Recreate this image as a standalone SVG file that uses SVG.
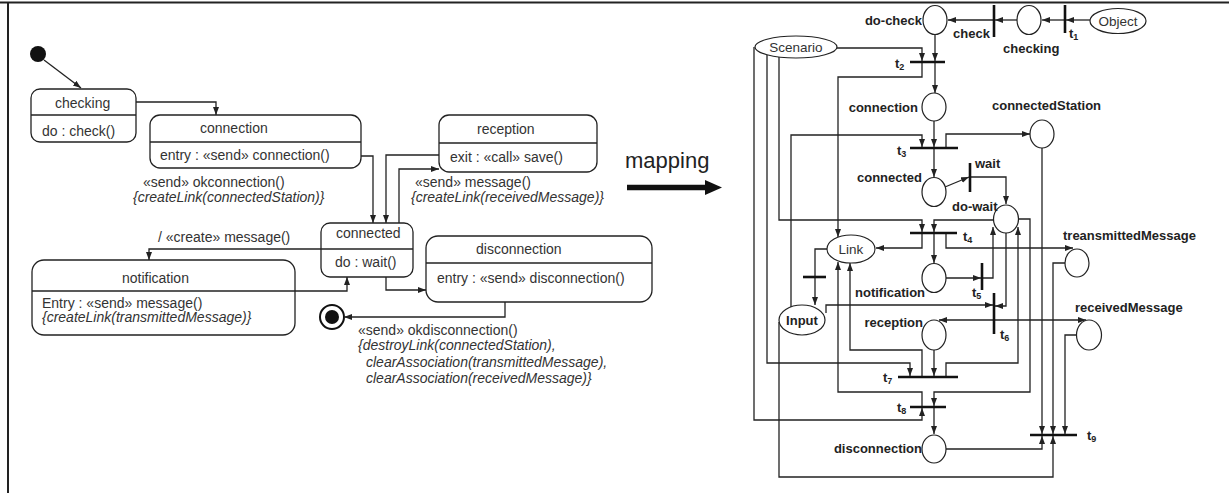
<svg xmlns="http://www.w3.org/2000/svg" width="1229" height="493" viewBox="0 0 1229 493">
<defs>
  <marker id="ah" markerUnits="userSpaceOnUse" markerWidth="9" markerHeight="7" refX="8" refY="3" orient="auto">
    <path d="M0,0 L8,3 L0,6 z" fill="#222"/>
  </marker>
</defs>
<style>
  .ln{fill:none;stroke:#222;stroke-width:1.3}
  .ar{fill:none;stroke:#222;stroke-width:1.3;marker-end:url(#ah)}
  .st{fill:#fff;stroke:#222;stroke-width:1.3}
  .t{font-family:"Liberation Sans",Arial,sans-serif;font-size:14px;fill:#333}
  .i{font-style:italic}
  .pl{fill:#fff;stroke:#222;stroke-width:1.2}
  .bar{stroke:#111;stroke-width:2.6}
  .lb{font-family:"Liberation Sans",Arial,sans-serif;font-size:13px;font-weight:bold;fill:#222}
  .nm{font-family:"Liberation Sans",Arial,sans-serif;font-size:13.5px;fill:#333}
  .sub{font-size:9px}
</style>

<!-- frame -->
<path d="M0,2.5 H1229 M8,2 V493" stroke="#222" stroke-width="2" fill="none"/>

<!-- ===== state machine ===== -->
<g id="initial"><circle cx="38" cy="54" r="8" fill="#111"/></g>

<g id="state-checking">
  <rect class="st" x="31" y="89" width="105" height="53" rx="9"/>
  <path class="ln" d="M31,115 H136"/>
  <text class="t" x="55" y="108">checking</text>
  <text class="t" x="42" y="136">do : check()</text>
</g>

<g id="state-connection">
  <rect class="st" x="150" y="115" width="211" height="53" rx="10"/>
  <path class="ln" d="M150,142 H361"/>
  <text class="t" x="200" y="133">connection</text>
  <text class="t" x="160" y="160">entry : «send» connection()</text>
</g>

<g id="state-reception">
  <rect class="st" x="439" y="115" width="158" height="57" rx="10"/>
  <path class="ln" d="M439,143 H597"/>
  <text class="t" x="477" y="134">reception</text>
  <text class="t" x="450" y="162">exit : «call» save()</text>
</g>

<g id="state-connected">
  <rect class="st" x="321" y="223" width="92" height="54" rx="9"/>
  <path class="ln" d="M321,249 H413"/>
  <text class="t" x="336" y="238">connected</text>
  <text class="t" x="335" y="267">do : wait()</text>
</g>

<g id="state-notification">
  <rect class="st" x="32" y="260" width="263" height="75" rx="12"/>
  <path class="ln" d="M32,291 H295"/>
  <text class="t" x="122" y="283">notification</text>
  <text class="t" x="42" y="308">Entry : «send» message()</text>
  <text class="t i" x="42" y="322">{createLink(transmittedMessage)}</text>
</g>

<g id="state-disconnection">
  <rect class="st" x="426" y="236" width="226" height="66" rx="12"/>
  <path class="ln" d="M426,263 H652"/>
  <text class="t" x="476" y="254">disconnection</text>
  <text class="t" x="437" y="283">entry : «send» disconnection()</text>
</g>

<g id="final">
  <circle cx="332" cy="317" r="12" fill="#fff" stroke="#111" stroke-width="2"/>
  <circle cx="332" cy="317" r="7" fill="#111"/>
</g>

<g id="transitions">
  <path class="ar" d="M44,60 L81,88"/>
  <path class="ar" d="M136,102 H216 V115"/>
  <path class="ar" d="M361,156 H373 V223"/>
  <path class="ar" d="M439,155 H386 V223"/>
  <path class="ar" d="M399,223 V169 H439"/>
  <path class="ar" d="M321,249 H149 V260"/>
  <path class="ar" d="M295,291 H347 V277"/>
  <path class="ar" d="M386,277 V290 H426"/>
  <path class="ar" d="M505,302 V317 H344"/>
</g>

<g id="transition-labels">
  <text class="t" x="143" y="187">«send» okconnection()</text>
  <text class="t i" x="133" y="202">{createLink(connectedStation)}</text>
  <text class="t" x="415" y="187">«send» message()</text>
  <text class="t i" x="411" y="202">{createLink(receivedMessage)}</text>
  <text class="t" x="158" y="242">/ «create» message()</text>
  <text class="t" x="358" y="335">«send» okdisconnection()</text>
  <text class="t i" x="358" y="350">{destroyLink(connectedStation),</text>
  <text class="t i" x="366" y="367">clearAssociation(transmittedMessage),</text>
  <text class="t i" x="366" y="383">clearAssociation(receivedMessage)}</text>
</g>

<!-- mapping arrow -->
<g id="mapping">
  <text x="625" y="168" font-family="'Liberation Sans',Arial,sans-serif" font-size="22" fill="#222">mapping</text>
  <path d="M627,187.5 H708" stroke="#111" stroke-width="5.5"/>
  <polygon points="705,180 722,187.5 705,195" fill="#111"/>
</g>

<!-- ===== Petri net ===== -->
<g id="arcs">
  <path class="ar" d="M1090,20 H1066"/>
  <path class="ar" d="M1065,20 H1042"/>
  <path class="ar" d="M1017,20 H995"/>
  <path class="ar" d="M994,20 H948"/>
  <path class="ar" d="M935,34 V61"/>
  <path class="ar" d="M837,48 H922 V61"/>
  <path class="ar" d="M935,62 V93"/>
  <path class="ar" d="M922,62 V77 H838 V237"/>
  <path class="ar" d="M791,307 V135 H922 V147"/>
  <path class="ar" d="M934,121 V147"/>
  <path class="ar" d="M934,148 V177"/>
  <path class="ar" d="M946,148 V134 H1030"/>
  <path class="ar" d="M945,187 L969,177"/>
  <path class="ar" d="M970,177 H1006 V204"/>
  <path class="ar" d="M779,57 V220 H922 V232"/>
  <path class="ar" d="M994,220 H934 V232"/>
  <path class="ar" d="M922,233 V248 H876"/>
  <path class="ar" d="M934,233 V263"/>
  <path class="ar" d="M946,233 V248 H1073"/>
  <path class="ar" d="M827,249 H815 V305"/>
  <path class="ar" d="M946,278 H981"/>
  <path class="ar" d="M982,278 H993 V227"/>
  <path class="ar" d="M1006,233 V306 H995"/>
  <path class="ar" d="M826,313 V305 H993"/>
  <path class="ar" d="M994,320 H939"/>
  <path class="ar" d="M994,320 H1086"/>
  <path class="ar" d="M934,350 V376"/>
  <path class="ar" d="M767,55 V363 H910 V376"/>
  <path class="ar" d="M922,377 V350 H850 V263"/>
  <path class="ar" d="M946,377 V363 H1018 V227"/>
  <path class="ar" d="M922,407 V392 H838 V262"/>
  <path class="ar" d="M754,47 V420 H922 V408"/>
  <path class="ar" d="M1018,219 H1030 V392 H934 V406"/>
  <path class="ar" d="M934,407 V434"/>
  <path class="ar" d="M946,449 H1042 V436"/>
  <path class="ar" d="M779,322 V477 H1053 V436"/>
  <path class="ar" d="M1042,148 V434"/>
  <path class="ar" d="M1065,263 H1053 V434"/>
  <path class="ar" d="M1077,335 H1065 V434"/>
</g>

<g id="p-object"><ellipse class="pl" cx="1118" cy="21" rx="28" ry="12.5"/><text class="nm" x="1118" y="26" text-anchor="middle">Object</text></g>
<g id="p-scenario"><ellipse class="pl" cx="796" cy="47" rx="41" ry="11"/><text class="nm" x="796" y="52" text-anchor="middle">Scenario</text></g>
<g id="p-link"><ellipse class="pl" cx="851" cy="249" rx="24" ry="14"/><text class="nm" x="851" y="254" text-anchor="middle">Link</text></g>
<g id="p-input"><ellipse class="pl" cx="802" cy="320" rx="23" ry="15"/><text class="lb" x="802" y="325" text-anchor="middle">Input</text></g>

<g id="p-do-check"><ellipse class="pl" cx="935" cy="20" rx="12" ry="14.5"/><text class="lb" x="922" y="25" text-anchor="end">do-check</text></g>
<g id="p-checking"><ellipse class="pl" cx="1029" cy="20" rx="12" ry="14.5"/><text class="lb" x="1003" y="53">checking</text></g>
<g id="p-connection"><ellipse class="pl" cx="934" cy="107" rx="12" ry="14"/><text class="lb" x="918" y="112" text-anchor="end">connection</text></g>
<g id="p-connected"><ellipse class="pl" cx="934" cy="192" rx="12" ry="14.5"/><text class="lb" x="922" y="182" text-anchor="end">connected</text></g>
<g id="p-do-wait"><ellipse class="pl" cx="1006" cy="219" rx="12.5" ry="14"/><text class="lb" x="952" y="211">do-wait</text></g>
<g id="p-notification"><ellipse class="pl" cx="934" cy="278" rx="12" ry="14.5"/><text class="lb" x="855" y="297">notification</text></g>
<g id="p-reception"><ellipse class="pl" cx="934" cy="335" rx="12" ry="15"/><text class="lb" x="923" y="327" text-anchor="end">reception</text></g>
<g id="p-disconnection"><ellipse class="pl" cx="934" cy="449" rx="12" ry="14"/><text class="lb" x="922" y="453" text-anchor="end">disconnection</text></g>
<g id="p-connectedStation"><ellipse class="pl" cx="1042" cy="134" rx="12" ry="14"/><text class="lb" x="992" y="110">connectedStation</text></g>
<g id="p-transmitted"><ellipse class="pl" cx="1077" cy="263" rx="12" ry="14"/><text class="lb" x="1063" y="240">treansmittedMessage</text></g>
<g id="p-received"><ellipse class="pl" cx="1089" cy="335" rx="12.5" ry="15"/><text class="lb" x="1075" y="312">receivedMessage</text></g>

<g id="t1"><path class="bar" d="M1065,5 V33"/><text class="lb" x="1069" y="38">t<tspan class="sub" dy="2">1</tspan></text></g>
<g id="t-check"><path class="bar" d="M994,5 V37"/><text class="lb" x="953" y="38">check</text></g>
<g id="t2"><path class="bar" d="M910,62 H945"/><text class="lb" x="895" y="68">t<tspan class="sub" dy="2">2</tspan></text></g>
<g id="t3"><path class="bar" d="M910,148 H958"/><text class="lb" x="897" y="155">t<tspan class="sub" dy="2">3</tspan></text></g>
<g id="t-wait"><path class="bar" d="M970,163 V192"/><text class="lb" x="975" y="168">wait</text></g>
<g id="t4"><path class="bar" d="M910,233 H957"/><text class="lb" x="963" y="241">t<tspan class="sub" dy="2">4</tspan></text></g>
<g id="t-link-input"><path class="bar" d="M803,277 H826"/></g>
<g id="t5"><path class="bar" d="M982,263 V290"/><text class="lb" x="972" y="297">t<tspan class="sub" dy="2">5</tspan></text></g>
<g id="t6"><path class="bar" d="M994,293 V334"/><text class="lb" x="1000" y="339">t<tspan class="sub" dy="2">6</tspan></text></g>
<g id="t7"><path class="bar" d="M898,377 H958"/><text class="lb" x="883" y="382">t<tspan class="sub" dy="2">7</tspan></text></g>
<g id="t8"><path class="bar" d="M910,407 H946"/><text class="lb" x="897" y="412">t<tspan class="sub" dy="2">8</tspan></text></g>
<g id="t9"><path class="bar" d="M1030,435 H1077"/><text class="lb" x="1087" y="440">t<tspan class="sub" dy="2">9</tspan></text></g>
</svg>
